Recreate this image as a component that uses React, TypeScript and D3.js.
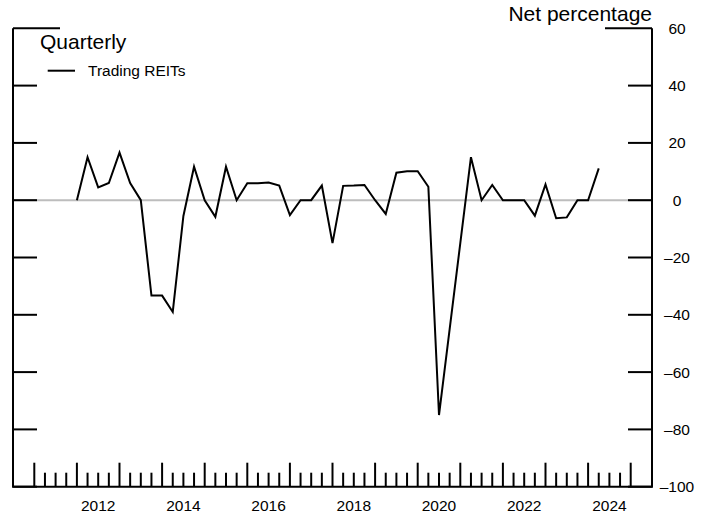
import React from 'react';
import * as d3 from 'd3';

// Quarterly observations, first point at 2012 Q1
const startYear = 2012;
const tradingReits = [
  0, 15, 4.5, 6, 16.6, 6, 0, -33.3, -33.3, -39,
  -5.5, 11.7, 0, -5.8, 11.7, 0, 5.9, 5.9, 6.2, 5.1,
  -5.2, 0, 0, 5.1, -15, 5, 5.1, 5.3, 0, -4.8,
  9.6, 10.1, 10.1, 4.7, -75, -45, -15, 15, 0, 5.3,
  0, 0, 0, -5.4, 5.5, -6.3, -6, 0, 0, 11.1,
];
const yTicks = [60, 40, 20, 0, -20, -40, -60, -80, -100];
const yearLabels = [2012, 2014, 2016, 2018, 2020, 2022, 2024];
const majorYears = d3.range(2011, 2026);

const W = 710;
const H = 518;
const left = 13;
const right = 652;
const top = 28.3;
const bottom = 486.7;
const font = "'Liberation Sans', Arial, Helvetica, sans-serif";

export default function App() {
  const x = d3.scaleLinear().domain([2010.5, 2025.5]).range([left, right]);
  const y = d3.scaleLinear().domain([-100, 60]).range([bottom, top]);

  const pts = tradingReits.map((v, i) => ({ t: startYear + i / 4, v }));
  const line = d3
    .line<{ t: number; v: number }>()
    .x((d) => x(d.t))
    .y((d) => y(d.v));

  const quarterTicks = d3.range(2011 * 4, 2025 * 4 + 1).map((q) => q / 4);

  return (
    <svg
      width={W}
      height={H}
      style={{ position: 'absolute', left: 0, top: 0, background: '#fff' }}
      fontFamily={font}
    >
      {/* zero line */}
      <line x1={left} x2={right} y1={y(0)} y2={y(0)} stroke="#bdbdbd" strokeWidth={2} />

      {/* frame */}
      <path
        d={`M${left},${top}V${bottom}H${right}V${top}`}
        fill="none"
        stroke="#000"
        strokeWidth={2}
      />

      {/* y ticks both sides */}
      {yTicks.map((t) => {
        const len = t === 60 ? 47 : 24;
        return (
          <g key={t}>
            <line x1={left} x2={left + len} y1={y(t)} y2={y(t)} stroke="#000" strokeWidth={2} />
            <line x1={right - len} x2={right} y1={y(t)} y2={y(t)} stroke="#000" strokeWidth={2} />
            <text
              x={677}
              y={y(t)}
              dy="0.36em"
              textAnchor="middle"
              fontSize={15.5}
              fill="#000"
            >
              {t < 0 ? `\u2013${Math.abs(t)}` : t}
            </text>
          </g>
        );
      })}

      {/* x ticks */}
      {quarterTicks.map((q) => {
        const major = majorYears.includes(q);
        return (
          <line
            key={q}
            x1={x(q)}
            x2={x(q)}
            y1={bottom}
            y2={bottom - (major ? 24 : 14)}
            stroke="#000"
            strokeWidth={2}
          />
        );
      })}
      {yearLabels.map((yr) => (
        <text key={yr} x={x(yr + 0.5)} y={511} textAnchor="middle" fontSize={15.5} fill="#000">
          {yr}
        </text>
      ))}

      {/* series */}
      <path d={line(pts) ?? ''} fill="none" stroke="#000" strokeWidth={2} strokeLinejoin="miter" />

      {/* titles and legend */}
      <text x={40} y={48.5} fontSize={21} fill="#000">
        Quarterly
      </text>
      <line x1={47.7} x2={75} y1={70.7} y2={70.7} stroke="#000" strokeWidth={2} />
      <text x={88} y={76.3} fontSize={15.5} fill="#000">
        Trading REITs
      </text>
      <text x={right} y={20.5} textAnchor="end" fontSize={21} fill="#000">
        Net percentage
      </text>
    </svg>
  );
}
